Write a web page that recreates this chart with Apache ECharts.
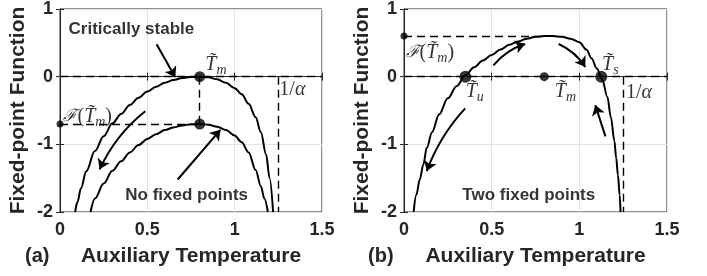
<!DOCTYPE html>
<html>
<head>
<meta charset="utf-8">
<script src="https://cdn.jsdelivr.net/npm/echarts@6/dist/echarts.min.js"></script>
<style>
  html, body { margin: 0; padding: 0; background: #fff; }
  #chart-panel { width: 707px; height: 276px; }
</style>
</head>
<body>
<div id="chart-panel"></div>
<script>
// x / y ranges and ticks (same for both panels)
const xTicks = [0, 0.5, 1, 1.5];
const yTicks = [-2, -1, 0, 1];

// characteristic values
const Tm = 0.8;
const invAlpha = 1.25;
const FTmA = -0.7;
const FTmB = 0.6;
const Tu = 0.35;
const Ts = 1.125;

// (a) critically stable curve [T, F]
const criticalCurve = [
  [0.087, -2.0], [0.10, -1.85], [0.12, -1.65], [0.15, -1.40], [0.20, -1.10],
  [0.25, -0.88], [0.30, -0.69], [0.35, -0.55], [0.40, -0.42], [0.45, -0.31],
  [0.50, -0.22], [0.55, -0.15], [0.60, -0.09], [0.65, -0.05], [0.70, -0.02],
  [0.75, -0.005], [0.80, 0], [0.85, -0.01], [0.90, -0.04], [0.95, -0.09],
  [1.00, -0.17], [1.04, -0.26], [1.08, -0.40], [1.12, -0.60], [1.15, -0.82],
  [1.18, -1.15], [1.20, -1.50], [1.22, -2.0]
];

// (a) no fixed points curve
const noFixedCurve = [
  [0.175, -2.0], [0.20, -1.80], [0.25, -1.58], [0.30, -1.39], [0.35, -1.25],
  [0.40, -1.12], [0.45, -1.01], [0.50, -0.92], [0.55, -0.85], [0.60, -0.79],
  [0.65, -0.75], [0.70, -0.72], [0.75, -0.705], [0.80, -0.70], [0.85, -0.71],
  [0.90, -0.74], [0.95, -0.79], [1.00, -0.87], [1.04, -0.97], [1.08, -1.12],
  [1.12, -1.38], [1.15, -1.62], [1.17, -1.80], [1.19, -2.0]
];

// (b) two fixed points curve
const twoFixedCurve = [
  [0.055, -2.0], [0.07, -1.75], [0.09, -1.52], [0.11, -1.30], [0.13, -1.05],
  [0.16, -0.82], [0.20, -0.56], [0.25, -0.32], [0.30, -0.14], [0.35, 0.02],
  [0.40, 0.14], [0.45, 0.24], [0.50, 0.32], [0.55, 0.40], [0.60, 0.47],
  [0.65, 0.52], [0.70, 0.56], [0.75, 0.59], [0.80, 0.60], [0.85, 0.60],
  [0.90, 0.59], [0.95, 0.56], [1.00, 0.51], [1.04, 0.40], [1.07, 0.27],
  [1.10, 0.12], [1.13, -0.04], [1.16, -0.30], [1.18, -0.60], [1.20, -0.95],
  [1.21, -1.20], [1.22, -1.45], [1.23, -1.75], [1.235, -2.0]
];

// arrows [from, to, curveness]
const arrowsA = [
  [[0.553, 0.48], [0.66, -0.01], 0],
  [[0.488, -0.51], [0.227, -1.37], -0.12],
  [[0.674, -1.52], [0.918, -0.785], 0]
];
const arrowsB = [
  [[0.51, 0.167], [0.691, 0.483], 0.15],
  [[0.882, 0.483], [1.034, 0.142], 0.15],
  [[1.149, -0.883], [1.091, -0.42], 0],
  [[0.349, -0.469], [0.13, -1.395], -0.1]
];

const INK = '#262626';
const SANS = 'Liberation Sans, Arial, Helvetica, sans-serif';
const SERIF = 'Liberation Serif, DejaVu Serif, serif';

const rich = {
  it: { fontFamily: SERIF, fontStyle: 'italic', fontSize: 20, color: '#000' },
  sub: { fontFamily: SERIF, fontStyle: 'italic', fontSize: 14, color: '#000', padding: [11, 0, 0, 0] },
  rm: { fontFamily: SERIF, fontSize: 20, color: '#000' },
  cal: { fontFamily: 'DejaVu Serif, serif', fontStyle: 'italic', fontSize: 17, color: '#000' },
  bold: { fontFamily: SANS, fontWeight: 'bold', fontSize: 17, color: '#000' }
};
const TmTxt = '{it|T\u0303}{sub|m}';
const FTmTxt = '{cal|\u2131}{rm|(}{it|T\u0303}{sub|m}{rm|)}';
const alphaTxt = '{rm|1/}{it|\u03b1}';

function grids() {
  return [
    { left: 60, top: 7, width: 262, height: 205, show: true, borderColor: INK, borderWidth: 1 },
    { left: 404, top: 7, width: 263, height: 205, show: true, borderColor: INK, borderWidth: 1 }
  ];
}

function xAxes() {
  const out = [];
  [0, 1].forEach(function (g) {
    out.push({
      type: 'value', gridIndex: g, min: xTicks[0], max: xTicks[xTicks.length - 1], interval: 0.5,
      name: 'Auxiliary Temperature', nameLocation: 'middle', nameGap: 34,
      nameTextStyle: { fontFamily: SANS, fontWeight: 'bold', fontSize: 21, color: INK },
      axisLine: { show: true, lineStyle: { color: INK, width: 1 } },
      axisTick: { show: true, inside: true, length: 4, lineStyle: { color: INK } },
      axisLabel: { margin: 9, fontFamily: SANS, fontWeight: 'bold', fontSize: 18, color: INK },
      splitLine: { show: true, lineStyle: { color: '#e2e2e2', width: 1 } }
    });
    out.push({
      type: 'value', gridIndex: g, position: 'top', min: xTicks[0], max: xTicks[xTicks.length - 1], interval: 0.5,
      axisLine: { show: true, lineStyle: { color: INK } },
      axisTick: { show: true, inside: true, length: 4, lineStyle: { color: INK } },
      axisLabel: { show: false }, splitLine: { show: false }
    });
  });
  return out;
}

function yAxes() {
  const out = [];
  [0, 1].forEach(function (g) {
    out.push({
      type: 'value', gridIndex: g, min: yTicks[0], max: yTicks[yTicks.length - 1], interval: 1,
      name: 'Fixed-point Function', nameLocation: 'middle', nameGap: 31,
      nameTextStyle: { fontFamily: SANS, fontWeight: 'bold', fontSize: 21, color: INK },
      axisLine: { show: true, lineStyle: { color: INK, width: 1 } },
      axisTick: { show: true, inside: true, length: 4, lineStyle: { color: INK } },
      axisLabel: { margin: 7, fontFamily: SANS, fontWeight: 'bold', fontSize: 18, color: INK },
      splitLine: { show: true, lineStyle: { color: '#e2e2e2', width: 1 } }
    });
    out.push({
      type: 'value', gridIndex: g, position: 'right', min: yTicks[0], max: yTicks[yTicks.length - 1], interval: 1,
      axisLine: { show: true, lineStyle: { color: INK } },
      axisTick: { show: true, inside: true, length: 4, lineStyle: { color: INK } },
      axisLabel: { show: false }, splitLine: { show: false }
    });
  });
  return out;
}

// axis indices: grid 0 -> x 0, y 0 ; grid 1 -> x 2, y 2
function curve(g, data) {
  return {
    type: 'line', xAxisIndex: g * 2, yAxisIndex: g * 2, data: data,
    showSymbol: false, smooth: 0.35, smoothMonotone: 'x', silent: true,
    lineStyle: { color: '#000', width: 2 }, z: 4
  };
}

function dashed(g, segs) {
  return {
    type: 'lines', coordinateSystem: 'cartesian2d', xAxisIndex: g * 2, yAxisIndex: g * 2,
    silent: true, z: 3,
    lineStyle: { color: '#000', width: 1.4, type: [8, 5], opacity: 1 },
    data: segs.map(function (s) { return { coords: s }; })
  };
}

function arrows(g, list) {
  return {
    type: 'lines', coordinateSystem: 'cartesian2d', xAxisIndex: g * 2, yAxisIndex: g * 2,
    silent: true, z: 5, symbol: ['none', 'arrow'], symbolSize: 10,
    lineStyle: { color: '#000', width: 2, opacity: 1 },
    data: list.map(function (a) { return { coords: [a[0], a[1]], lineStyle: { curveness: a[2] } }; })
  };
}

function dots(g, pts, size) {
  return {
    type: 'scatter', xAxisIndex: g * 2, yAxisIndex: g * 2, data: pts,
    symbolSize: size, clip: false, silent: true, z: 6,
    itemStyle: { color: '#000' }
  };
}

function texts(g, items) {
  return {
    type: 'scatter', xAxisIndex: g * 2, yAxisIndex: g * 2, symbolSize: 1, clip: false, silent: true, z: 7,
    itemStyle: { color: 'rgba(0,0,0,0)' },
    data: items.map(function (t) {
      return { value: t[0], label: { show: true, position: 'right', distance: 0, formatter: t[1], rich: rich } };
    })
  };
}

var myChart = echarts.init(document.getElementById('chart-panel'), null, { renderer: 'canvas' });

myChart.setOption({
  animation: false,
  grid: grids(),
  xAxis: xAxes(),
  yAxis: yAxes(),
  graphic: [
    { type: 'text', left: 25, top: 246, style: { text: '(a)', font: 'bold 20px ' + SANS, fill: INK } },
    { type: 'text', left: 368, top: 246, style: { text: '(b)', font: 'bold 20px ' + SANS, fill: INK } }
  ],
  series: [
    // panel (a)
    dashed(0, [
      [[0, 0], [1.5, 0]],
      [[Tm, 0], [Tm, FTmA]],
      [[0, FTmA], [Tm, FTmA]],
      [[invAlpha, 0], [invAlpha, -2]]
    ]),
    curve(0, criticalCurve),
    curve(0, noFixedCurve),
    arrows(0, arrowsA),
    dots(0, [[Tm, 0], [Tm, FTmA]], 11),
    dots(0, [[0, FTmA]], 7),
    texts(0, [
      [[0.046, 0.706], '{bold|Critically stable}'],
      [[0.829, 0.17], TmTxt],
      [[0.017, -0.59], FTmTxt],
      [[1.253, -0.195], alphaTxt],
      [[0.371, -1.76], '{bold|No fixed points}']
    ]),
    // panel (b)
    dashed(1, [
      [[0, 0], [1.5, 0]],
      [[0, FTmB], [Tm, FTmB]],
      [[invAlpha, 0], [invAlpha, -2]]
    ]),
    curve(1, twoFixedCurve),
    arrows(1, arrowsB),
    dots(1, [[Tu, 0], [Ts, 0]], 12),
    dots(1, [[Tm, 0]], 9),
    dots(1, [[0, FTmB]], 7),
    texts(1, [
      [[0.006, 0.35], FTmTxt],
      [[0.349, -0.22], '{it|T\u0303}{sub|u}'],
      [[0.857, -0.22], TmTxt],
      [[1.127, 0.17], '{it|T\u0303}{sub|s}'],
      [[1.263, -0.24], alphaTxt],
      [[0.33, -1.75], '{bold|Two fixed points}']
    ])
  ]
});
</script>
</body>
</html>
